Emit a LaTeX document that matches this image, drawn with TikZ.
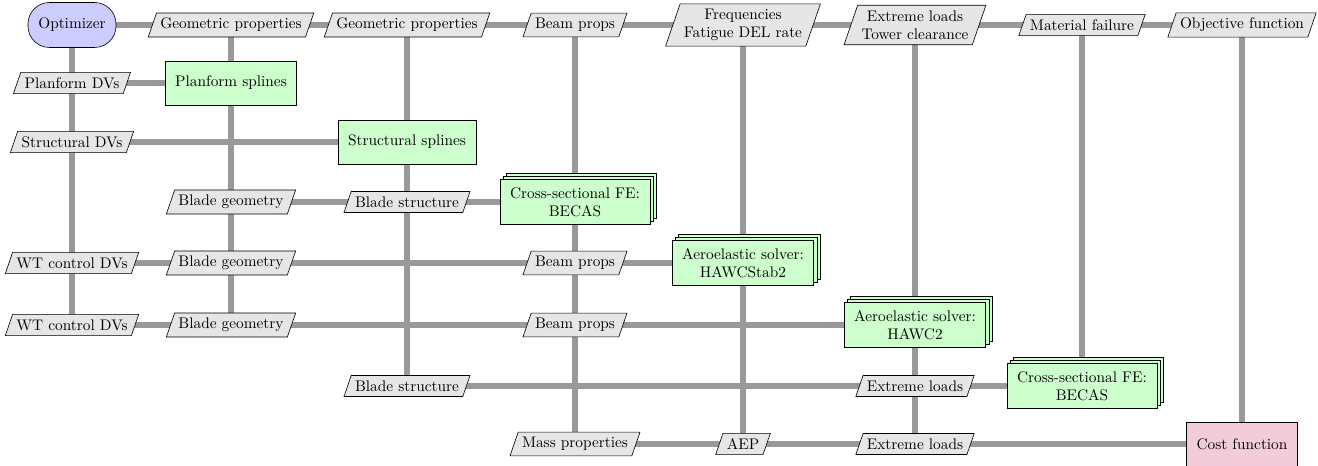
\documentclass[tikz,border=0pt]{standalone}
\usetikzlibrary{shapes.geometric,shadows,backgrounds}
\definecolor{lineg}{RGB}{153,153,153}
\definecolor{optc}{RGB}{204,204,255}
\definecolor{funcc}{RGB}{204,255,204}
\definecolor{costc}{RGB}{242,204,218}
\definecolor{datac}{RGB}{230,230,230}
\begin{document}
\begin{tikzpicture}[x=0.652pt,y=-0.652pt,
  data/.style={draw,fill=datac,trapezium,trapezium left angle=71,trapezium right angle=109,align=center,inner xsep=2.5pt,inner ysep=3.33pt},
  fn/.style={draw,fill=funcc,rectangle,align=center,inner xsep=6.5pt,inner ysep=5pt,minimum height=28.7pt},
  stackfn/.style={fn,double copy shadow={shadow xshift=2pt,shadow yshift=2pt}},
  optbox/.style={draw,fill=optc,rectangle,rounded corners=14pt,minimum height=29.3pt,minimum width=57.4pt},
  costbox/.style={draw,fill=costc,rectangle,inner xsep=6.5pt,minimum height=28.7pt},
  dline/.style={line width=4.5pt,draw=lineg}]
\useasboundingbox (0,0) rectangle (1318,466);
% row 0
\node[optbox] (opt) at (72,25) {Optimizer};
\node[data] (gp1) at (231,25) {Geometric properties};
\node[data] (gp2) at (407,25) {Geometric properties};
\node[data] (bp0) at (575,25) {Beam props};
\node[data] (freq) at (743,25) {Frequencies\\Fatigue DEL rate};
\node[data] (ext0) at (915,25) {Extreme loads\\Tower clearance};
\node[data] (mf) at (1082,25) {Material failure};
\node[data] (obj) at (1242,25) {Objective function};
% row 1
\node[data] (pdv) at (72,83) {Planform DVs};
\node[fn] (psp) at (231,83) {Planform splines};
% row 2
\node[data] (sdv) at (72,142) {Structural DVs};
\node[fn] (ssp) at (407,142) {Structural splines};
% row 3
\node[data] (bg3) at (231,202) {Blade geometry};
\node[data] (bs3) at (407,202) {Blade structure};
\node[stackfn] (becas1) at (575,202) {Cross-sectional FE:\\BECAS};
% row 4
\node[data] (wt4) at (72,263) {WT control DVs};
\node[data] (bg4) at (231,263) {Blade geometry};
\node[data] (bp4) at (575,263) {Beam props};
\node[stackfn] (hs2) at (743,263) {Aeroelastic solver:\\HAWCStab2};
% row 5
\node[data] (wt5) at (72,325) {WT control DVs};
\node[data] (bg5) at (231,325) {Blade geometry};
\node[data] (bp5) at (575,325) {Beam props};
\node[stackfn] (hawc2) at (915,325) {Aeroelastic solver:\\HAWC2};
% row 6
\node[data] (bs6) at (407,386) {Blade structure};
\node[data] (el6) at (915,386) {Extreme loads};
\node[stackfn] (becas2) at (1082,386) {Cross-sectional FE:\\BECAS};
% row 7
\node[data] (mp7) at (575,444) {Mass properties};
\node[data] (aep) at (743,444) {AEP};
\node[data] (el7) at (915,444) {Extreme loads};
\node[costbox] (cost) at (1242,444) {Cost function};
\begin{scope}[on background layer]
% horizontal
\draw[dline] (opt.center) -- (obj.center);
\draw[dline] (pdv.center) -- (psp.center);
\draw[dline] (sdv.center) -- (ssp.center);
\draw[dline] (bg3.center) -- (becas1.center);
\draw[dline] (wt4.center) -- (hs2.center);
\draw[dline] (wt5.center) -- (hawc2.center);
\draw[dline] (bs6.center) -- (becas2.center);
\draw[dline] (mp7.center) -- (cost.center);
% vertical
\draw[dline] (opt.center) -- (wt5.center);
\draw[dline] (gp1.center) -- (bg5.center);
\draw[dline] (gp2.center) -- (bs6.center);
\draw[dline] (bp0.center) -- (mp7.center);
\draw[dline] (freq.center) -- (aep.center);
\draw[dline] (ext0.center) -- (el7.center);
\draw[dline] (mf.center) -- (becas2.center);
\draw[dline] (obj.center) -- (cost.center);
\end{scope}
\end{tikzpicture}
\end{document}
